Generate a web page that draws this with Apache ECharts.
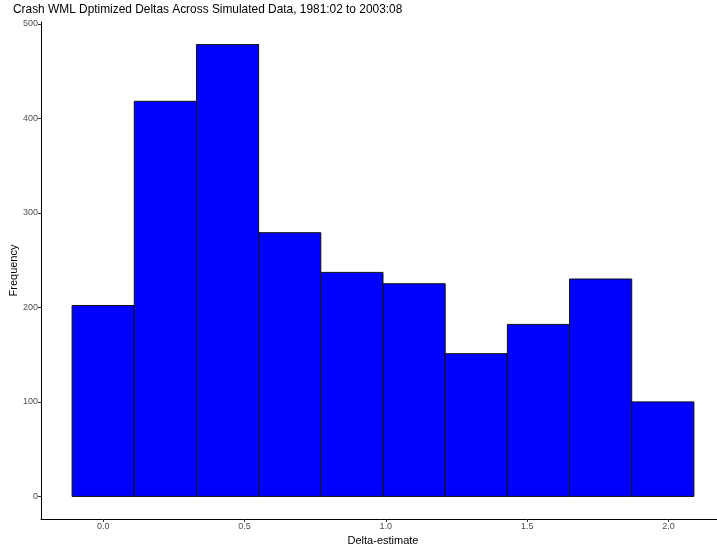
<!DOCTYPE html>
<html>
<head>
<meta charset="utf-8">
<script src="https://cdn.jsdelivr.net/npm/echarts@6/dist/echarts.min.js"></script>
<style>html,body{margin:0;padding:0;background:#fff}#c{width:717px;height:551px}</style>
</head>
<body>
<div id="c"></div>
<script>
var titleText = "Crash WML Dptimized Deltas Across Simulated Data, 1981:02 to 2003:08";
var binEdges = [-0.11, 0.11, 0.33, 0.55, 0.77, 0.99, 1.21, 1.43, 1.65, 1.87, 2.09];
var counts = [202, 418, 478, 279, 237, 225, 151, 182, 230, 100];
var xTicks = [0, 0.5, 1, 1.5, 2];
var yTicks = [0, 100, 200, 300, 400, 500];

var data = counts.map(function (c, i) { return [binEdges[i], binEdges[i + 1], c]; });

var chart = echarts.init(document.getElementById('c'), null, {renderer: 'canvas'});
chart.setOption({
  animation: false,
  backgroundColor: '#ffffff',
  title: {
    text: titleText, left: 13, top: 4, padding: 0,
    textStyle: {fontFamily: 'Liberation Sans', fontSize: 11.9, fontWeight: 'normal', color: '#000'}
  },
  grid: {left: 41, top: 22, width: 684, bottom: 32, containLabel: false, outerBoundsMode: 'none'},
  xAxis: {
    type: 'value', min: -0.22, max: 2.2,
    name: 'Delta-estimate', nameLocation: 'middle', nameGap: 16, nameMoveOverlap: false,
    nameTextStyle: {fontFamily: 'Liberation Sans', fontSize: 11, color: '#000'},
    axisLine: {show: true, onZero: false, lineStyle: {color: '#000', width: 1}},
    axisTick: {show: true, length: 3, customValues: xTicks, lineStyle: {color: '#333'}},
    axisLabel: {customValues: xTicks, margin: 3, fontFamily: 'Liberation Sans', fontSize: 9, color: '#4d4d4d',
      formatter: function (v) { return v.toFixed(1); }},
    splitLine: {show: false}
  },
  yAxis: {
    type: 'value', min: -23.9, max: 501.9,
    name: 'Frequency', nameLocation: 'middle', nameGap: 22, nameRotate: 90, nameMoveOverlap: false,
    nameTextStyle: {fontFamily: 'Liberation Sans', fontSize: 11, color: '#000'},
    axisLine: {show: true, onZero: false, lineStyle: {color: '#000', width: 1}},
    axisTick: {show: true, length: 3, customValues: yTicks, lineStyle: {color: '#333'}},
    axisLabel: {customValues: yTicks, margin: 3, fontFamily: 'Liberation Sans', fontSize: 9, color: '#4d4d4d'},
    splitLine: {show: false}
  },
  series: [{
    type: 'custom',
    data: data,
    encode: {x: [0, 1], y: 2},
    renderItem: function (params, api) {
      var p0 = api.coord([api.value(0), api.value(2)]);
      var p1 = api.coord([api.value(1), 0]);
      return {
        type: 'rect',
        shape: {x: p0[0], y: p0[1], width: p1[0] - p0[0], height: p1[1] - p0[1]},
        style: {fill: '#0000ff', stroke: '#111', lineWidth: 1}
      };
    }
  }]
});
</script>
</body>
</html>
